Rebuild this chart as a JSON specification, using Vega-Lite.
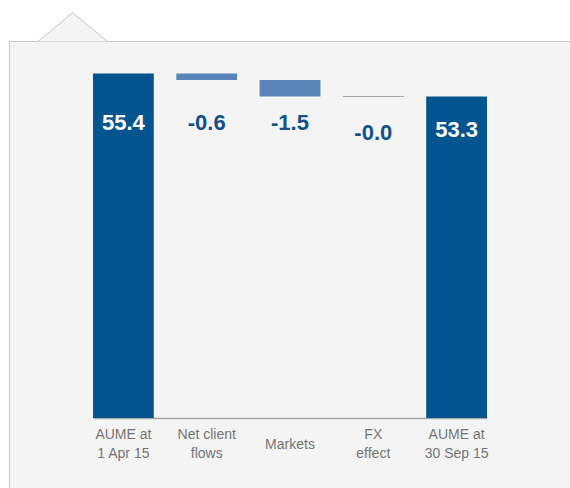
{
  "$schema": "https://vega.github.io/schema/vega-lite/v6.json",
  "width": 571,
  "height": 457,
  "autosize": {"type": "none"},
  "padding": {"left": 9, "top": 41, "right": -10, "bottom": -10},
  "background": "#ffffff",
  "config": {
    "view": {"fill": "#f4f4f4", "stroke": "#c8c8c8", "strokeWidth": 1},
    "font": "Liberation Sans"
  },
  "data": {
    "values": [
      {"category": "AUME at 1 Apr 15", "end": 55.4, "label": "55.4", "kind": "total"},
      {"category": "Net client flows", "start": 55.4, "end": 54.8, "label": "-0.6", "kind": "decrease"},
      {"category": "Markets", "start": 54.8, "end": 53.3, "label": "-1.5", "kind": "decrease"},
      {"category": "FX effect", "start": 53.3, "end": 53.3, "label": "-0.0", "kind": "unchanged"},
      {"category": "AUME at 30 Sep 15", "end": 53.3, "label": "53.3", "kind": "total"}
    ]
  },
  "encoding": {
    "x": {
      "field": "category",
      "type": "nominal",
      "sort": null,
      "scale": {
        "domain": ["AUME at 1 Apr 15", "Net client flows", "Markets", "FX effect", "AUME at 30 Sep 15"],
        "range": [84, 478],
        "paddingInner": 0.27,
        "paddingOuter": 0
      },
      "axis": {
        "title": null,
        "orient": "bottom",
        "offset": -80,
        "domainColor": "#a8a8a8",
        "domainWidth": 1.5,
        "ticks": false,
        "tickSize": 0,
        "grid": false,
        "labelAngle": 0,
        "labelFont": "Liberation Sans",
        "labelFontSize": 14,
        "labelColor": "#747474",
        "labelLineHeight": 19.5,
        "labelBaseline": "middle",
        "labelPadding": {"condition": {"test": "datum.value == 'Markets'", "value": 26}, "value": 16},
        "labelExpr": "datum.value == 'Markets' ? 'Markets' : indexof(datum.value, 'AUME at ') == 0 ? ['AUME at', substring(datum.value, 8)] : [substring(datum.value, 0, lastindexof(datum.value, ' ')), substring(datum.value, lastindexof(datum.value, ' ') + 1)]"
      }
    }
  },
  "layer": [
    {
      "transform": [{"filter": "datum.kind == 'total'"}],
      "mark": {"type": "bar", "color": "#03548f"},
      "encoding": {
        "y": {"field": "end", "type": "quantitative", "scale": {"domain": [16.63, 58.37], "zero": false, "nice": false}, "axis": null},
        "y2": {"datum": 23.94}
      }
    },
    {
      "transform": [{"filter": "datum.kind == 'decrease'"}],
      "mark": {"type": "bar", "color": "#5b84b8"},
      "encoding": {
        "y": {"field": "start", "type": "quantitative", "scale": {"domain": [16.63, 58.37], "zero": false, "nice": false}, "axis": null},
        "y2": {"field": "end"}
      }
    },
    {
      "transform": [{"filter": "datum.kind == 'unchanged'"}],
      "mark": {"type": "bar", "fill": "#a8a8a8", "stroke": "#a8a8a8", "strokeWidth": 1},
      "encoding": {
        "y": {"field": "start", "type": "quantitative", "scale": {"domain": [16.63, 58.37], "zero": false, "nice": false}, "axis": null},
        "y2": {"field": "end"}
      }
    },
    {
      "transform": [{"filter": "datum.category == 'AUME at 1 Apr 15' || datum.category == 'Net client flows' || datum.category == 'Markets'"}],
      "mark": {"type": "text", "fontSize": 22, "fontWeight": "bold", "baseline": "alphabetic", "align": "center", "font": "Liberation Sans"},
      "encoding": {
        "y": {"datum": 50.24, "type": "quantitative"},
        "text": {"field": "label"},
        "color": {"condition": {"test": "datum.kind == 'total'", "value": "#ffffff"}, "value": "#12508c"}
      }
    },
    {
      "transform": [{"filter": "datum.category == 'FX effect'"}],
      "mark": {"type": "text", "fontSize": 22, "fontWeight": "bold", "baseline": "alphabetic", "align": "center", "font": "Liberation Sans", "color": "#12508c"},
      "encoding": {
        "y": {"datum": 49.33, "type": "quantitative"},
        "text": {"field": "label"}
      }
    },
    {
      "transform": [{"filter": "datum.category == 'AUME at 30 Sep 15'"}],
      "mark": {"type": "text", "fontSize": 22, "fontWeight": "bold", "baseline": "alphabetic", "align": "center", "font": "Liberation Sans", "color": "#ffffff"},
      "encoding": {
        "y": {"datum": 49.63, "type": "quantitative"},
        "text": {"field": "label"}
      }
    },
    {
      "data": {"values": [{"tab": "panel"}]},
      "mark": {"type": "point", "shape": "M-1.571,0.015L-0.58,-0.809L0.409,0.015", "size": 4900, "filled": true, "fill": "#f4f4f4", "stroke": "#c8c8c8", "strokeWidth": 1, "opacity": 1, "clip": false},
      "encoding": {
        "x": {"datum": "AUME at 1 Apr 15", "type": "nominal", "bandPosition": 0},
        "y": {"datum": 58.37, "type": "quantitative"}
      }
    }
  ]
}
